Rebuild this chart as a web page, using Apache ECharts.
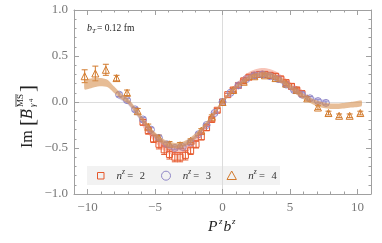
<!DOCTYPE html>
<html><head><meta charset="utf-8">
<script src="https://cdn.jsdelivr.net/npm/echarts@6/dist/echarts.min.js"></script>
<style>html,body{margin:0;padding:0;background:#fff}#c{width:382px;height:243px}</style>
</head><body><div id="c"></div>
<script>
// ---- data: n^z = 2 (squares)
const x2 = [-5.89,-5.50,-5.11,-4.71,-4.32,-3.93,-3.53,-3.14,-2.75,-2.36,-1.96,-1.57,-1.18,-0.79,-0.39,0,0.39,0.79,1.18,1.57,1.96,2.36,2.75,3.14,3.53,3.93,4.32,4.71,5.11,5.50,5.89];
const y2 = [-0.22,-0.31,-0.40,-0.46,-0.52,-0.57,-0.60,-0.60,-0.58,-0.53,-0.46,-0.38,-0.28,-0.19,-0.09,0,0.08,0.13,0.18,0.23,0.27,0.29,0.30,0.30,0.29,0.28,0.25,0.21,0.17,0.13,0.09];
const e2 = [0.03,0.04,0.04,0.05,0.05,0.05,0.05,0.05,0.05,0.04,0.04,0.03,0.03,0.02,0.02,0.01,0.015,0.02,0.02,0.02,0.025,0.025,0.03,0.03,0.03,0.03,0.03,0.03,0.03,0.03,0.03];
// ---- n^z = 3 (circles)
const x3 = [-7.66,-7.07,-6.48,-5.89,-5.30,-4.71,-4.12,-3.53,-2.95,-2.36,-1.77,-1.18,-0.59,0,0.59,1.18,1.77,2.36,2.95,3.53,4.12,4.71,5.30,5.89,6.48,7.07,7.66];
const y3 = [0.08,0.02,-0.08,-0.19,-0.30,-0.39,-0.46,-0.50,-0.49,-0.44,-0.35,-0.25,-0.12,0,0.10,0.18,0.25,0.29,0.30,0.28,0.25,0.19,0.13,0.08,0.04,0.01,-0.01];
const e3 = [0.02,0.02,0.02,0.02,0.02,0.02,0.02,0.02,0.02,0.02,0.015,0.015,0.01,0.01,0.01,0.015,0.015,0.02,0.02,0.02,0.02,0.02,0.02,0.02,0.02,0.02,0.02];
// ---- n^z = 4 (triangles)
const x4 = [-10.21,-9.42,-8.64,-7.85,-7.07,-6.28,-5.50,-4.71,-3.93,-3.14,-2.36,-1.57,-0.79,0,0.79,1.57,2.36,3.14,3.93,4.71,5.50,6.28,7.07,7.85,8.64,9.42,10.21];
const y4 = [0.28,0.31,0.35,0.26,0.10,-0.10,-0.27,-0.39,-0.46,-0.47,-0.42,-0.31,-0.16,0,0.13,0.22,0.28,0.29,0.26,0.20,0.13,0.04,-0.06,-0.12,-0.15,-0.15,-0.12];
const e4 = [0.07,0.08,0.06,0.03,0.03,0.03,0.03,0.03,0.03,0.03,0.02,0.02,0.02,0.01,0.02,0.02,0.02,0.02,0.02,0.02,0.02,0.02,0.02,0.02,0.02,0.02,0.02];
// ---- fit bands (centre, half-width)
const bx4 = [-10.2,-9.5,-9,-8.5,-8,-7.5,-7,-6.5,-6,-5.5,-5,-4.5,-4,-3.5,-3,-2.5,-2,-1.5,-1,-0.5,0,0.5,1,1.5,2,2.5,3,3.5,4,4.5,5,5.5,6,6.5,7,7.5,8,8.5,9,9.5,10.3];
const bc4 = [0.185,0.21,0.215,0.2,0.13,0.06,0.01,-0.08,-0.18,-0.28,-0.36,-0.42,-0.46,-0.475,-0.465,-0.43,-0.37,-0.29,-0.2,-0.1,0,0.09,0.16,0.22,0.265,0.29,0.3,0.29,0.26,0.22,0.165,0.11,0.06,0.02,-0.015,-0.035,-0.045,-0.045,-0.04,-0.03,-0.015];
const bw4 = [0.05,0.05,0.045,0.04,0.035,0.03,0.03,0.03,0.03,0.03,0.03,0.03,0.03,0.03,0.03,0.03,0.03,0.025,0.02,0.02,0.02,0.02,0.02,0.02,0.025,0.025,0.03,0.03,0.03,0.03,0.03,0.03,0.03,0.03,0.03,0.03,0.03,0.03,0.03,0.03,0.03];
const bx3 = [-7.7,-7,-6.5,-6,-5.5,-5,-4.5,-4,-3.5,-3,-2.5,-2,-1.5,-1,-0.5,0,0.5,1,1.5,2,2.5,3,3.5,4,4.5,5,5.5,6,6.5,7,7.7];
const bc3 = [0.07,0.0,-0.09,-0.19,-0.29,-0.37,-0.43,-0.475,-0.49,-0.48,-0.44,-0.38,-0.3,-0.21,-0.11,0,0.09,0.17,0.23,0.275,0.3,0.305,0.29,0.26,0.21,0.155,0.11,0.07,0.035,0.01,-0.015];
const bw3 = [0.03,0.03,0.03,0.03,0.03,0.03,0.03,0.03,0.03,0.03,0.03,0.025,0.02,0.02,0.015,0.01,0.015,0.02,0.02,0.025,0.03,0.03,0.03,0.03,0.03,0.03,0.03,0.03,0.03,0.03,0.03];
const bx2 = [-5.9,-5.5,-5,-4.5,-4,-3.5,-3,-2.5,-2,-1.5,-1,-0.5,0,0.5,1,1.5,2,2.5,3,3.5,4,4.5,5,5.5,5.9];
const bc2 = [-0.22,-0.3,-0.39,-0.46,-0.51,-0.53,-0.52,-0.48,-0.41,-0.32,-0.22,-0.11,0,0.09,0.17,0.24,0.29,0.32,0.33,0.32,0.29,0.24,0.18,0.13,0.09];
const bw2 = [0.05,0.05,0.05,0.05,0.05,0.05,0.05,0.05,0.045,0.04,0.03,0.02,0.01,0.02,0.03,0.035,0.04,0.04,0.04,0.04,0.04,0.04,0.04,0.04,0.04];
// ---- ticks
const xMajor = [-10,-5,0,5,10];

const C2 = '#e6582c', C3 = '#9088c8', C4 = '#d27a2c';
const SERIF = '"Liberation Serif","DejaVu Serif",serif';
const minus = v => String(v).replace('-', '\u2212');

function pts(xs, ys, es) { return xs.map((x, i) => [x, ys[i], es[i]]); }
function errSeries(xs, ys, es, color) {
  return {
    type: 'custom', z: 2, silent: true, data: pts(xs, ys, es),
    renderItem: function (p, api) {
      const x = api.value(0), y = api.value(1), e = api.value(2);
      const a = api.coord([x, y - e]), b = api.coord([x, y + e]);
      const cw = 3;
      const st = { stroke: color, lineWidth: 1 };
      return { type: 'group', children: [
        { type: 'line', shape: { x1: a[0], y1: a[1], x2: b[0], y2: b[1] }, style: st },
        { type: 'line', shape: { x1: a[0] - cw, y1: a[1], x2: a[0] + cw, y2: a[1] }, style: st },
        { type: 'line', shape: { x1: b[0] - cw, y1: b[1], x2: b[0] + cw, y2: b[1] }, style: st }
      ]};
    }
  };
}
function bandSeries(bx, bc, bw, fill, z) {
  const data = bx.map((x, i) => [x, bc[i] - bw[i], bc[i] + bw[i]]);
  return {
    type: 'custom', z: z, silent: true, data: data,
    renderItem: function (p, api) {
      if (p.dataIndex !== 0) return null;
      const up = data.map(d => api.coord([d[0], d[2]]));
      const lo = data.map(d => api.coord([d[0], d[1]])).reverse();
      return { type: 'polygon', shape: { points: up.concat(lo), smooth: 0.2 }, style: { fill: fill, stroke: null } };
    }
  };
}
function scat(xs, ys, symbol, size, color) {
  return {
    type: 'scatter', z: 3, silent: true, symbol: symbol, symbolSize: size,
    data: xs.map((x, i) => [x, ys[i]]),
    itemStyle: { color: 'rgba(255,255,255,0)', borderColor: color, borderWidth: 1, opacity: 1 }
  };
}

const axisCol = '#a0a0a0';
const tx = (x, y, text, size, italic, color, align) => ({
  type: 'text', x: x, y: y, silent: true,
  style: { text: text, fontSize: size, fontFamily: SERIF, fontStyle: italic ? 'italic' : 'normal', fill: color || '#333', align: align || 'left', verticalAlign: 'middle' }
});

const chart = echarts.init(document.getElementById('c'), null, { renderer: 'canvas' });
const baseX = { type: 'value', min: -11, max: 11, splitLine: { show: false } };
const baseY = { type: 'value', min: -1, max: 1, splitLine: { show: false } };
const hiddenLine = { show: false, onZero: false };
chart.setOption({
  animation: false,
  grid: { left: 74, right: 11, top: 10, bottom: 49 },
  xAxis: [
    Object.assign({}, baseX, { position: 'bottom',
      axisLine: { show: true, onZero: false, lineStyle: { color: axisCol } },
      axisTick: { show: true, inside: true, length: 5, customValues: xMajor, lineStyle: { color: axisCol } },
      axisLabel: { show: true, customValues: xMajor, formatter: minus, color: '#777', fontFamily: SERIF, fontSize: 13, margin: 7 } }),
    Object.assign({}, baseX, { position: 'bottom', interval: 1,
      axisLine: hiddenLine, axisTick: { show: true, inside: true, length: 2.5, lineStyle: { color: axisCol } }, axisLabel: { show: false } }),
    Object.assign({}, baseX, { position: 'top',
      axisLine: { show: true, onZero: false, lineStyle: { color: axisCol } },
      axisTick: { show: true, inside: true, length: 5, customValues: xMajor, lineStyle: { color: axisCol } },
      axisLabel: { show: false } }),
    Object.assign({}, baseX, { position: 'top', interval: 1,
      axisLine: hiddenLine, axisTick: { show: true, inside: true, length: 2.5, lineStyle: { color: axisCol } }, axisLabel: { show: false } }),
    Object.assign({}, baseX, { position: 'bottom', interval: 11,
      axisLine: hiddenLine, axisTick: { show: false }, axisLabel: { show: false },
      splitLine: { show: true, lineStyle: { color: '#dcdcdc', width: 1 } } })
  ],
  yAxis: [
    Object.assign({}, baseY, { position: 'left', interval: 0.5,
      axisLine: { show: true, onZero: false, lineStyle: { color: axisCol } },
      axisTick: { show: true, inside: true, length: 5, lineStyle: { color: axisCol } },
      minorTick: { show: true, splitNumber: 5, length: 2.5, lineStyle: { color: axisCol } },
      axisLabel: { formatter: v => minus(v.toFixed(1)), color: '#777', fontFamily: SERIF, fontSize: 13, margin: 6 } }),
    Object.assign({}, baseY, { position: 'right', interval: 0.5,
      axisLine: { show: true, onZero: false, lineStyle: { color: axisCol } },
      axisTick: { show: true, inside: true, length: 5, lineStyle: { color: axisCol } },
      minorTick: { show: true, splitNumber: 5, length: 2.5, lineStyle: { color: axisCol } },
      axisLabel: { show: false } }),
    Object.assign({}, baseY, { position: 'left', interval: 1,
      axisLine: hiddenLine, axisTick: { show: false }, axisLabel: { show: false },
      splitLine: { show: true, lineStyle: { color: '#dcdcdc', width: 1 } } })
  ],
  series: [
    errSeries(x2, y2, e2, C2), errSeries(x3, y3, e3, C3), errSeries(x4, y4, e4, C4),
    scat(x2, y2, 'rect', 6, C2), scat(x3, y3, 'circle', 7, C3), scat(x4, y4, 'triangle', 7, C4),
    bandSeries(bx2, bc2, bw2, 'rgba(238,110,80,0.40)', 4),
    bandSeries(bx3, bc3, bw3, 'rgba(150,140,210,0.40)', 5),
    bandSeries(bx4, bc4, bw4, 'rgba(215,145,80,0.60)', 6)
  ],
  graphic: [
    // annotation b_T = 0.12 fm
    tx(87, 28, 'b', 10, true, '#222'),
    tx(92, 31, 'T', 7, true, '#222'),
    tx(97, 28, '= 0.12 fm', 9.5, false, '#222'),
    // legend
    { type: 'rect', silent: true, shape: { x: 87, y: 166, width: 193, height: 19 }, style: { fill: '#f2f2f2' } },
    { type: 'rect', silent: true, shape: { x: 97.5, y: 172.5, width: 6.5, height: 6.5 }, style: { fill: 'none', stroke: C2, lineWidth: 1 } },
    tx(116.5, 176, 'n', 11, true, '#333'), tx(122, 172.5, 'z', 7.5, true, '#333'),
    tx(127.3, 176, '=', 10.5, false, '#333'), tx(139.8, 176, '2', 10.5, false, '#333'),
    { type: 'circle', silent: true, shape: { cx: 166, cy: 175.7, r: 4.5 }, style: { fill: 'none', stroke: C3, lineWidth: 1 } },
    tx(182.7, 176, 'n', 11, true, '#333'), tx(188.2, 172.5, 'z', 7.5, true, '#333'),
    tx(193.3, 176, '=', 10.5, false, '#333'), tx(205.8, 176, '3', 10.5, false, '#333'),
    { type: 'polygon', silent: true, shape: { points: [[231.7, 171], [227, 179.5], [236.4, 179.5]] }, style: { fill: 'none', stroke: C4, lineWidth: 1 } },
    tx(248.3, 176, 'n', 11, true, '#333'), tx(253.8, 172.5, 'z', 7.5, true, '#333'),
    tx(259, 176, '=', 10.5, false, '#333'), tx(271.5, 176, '4', 10.5, false, '#333'),
    // x-axis title P^z b^z
    tx(208, 227, 'P', 15.5, true, '#222'), tx(219, 222, 'z', 9, true, '#222'),
    tx(223.5, 227, 'b', 15.5, true, '#222'), tx(232, 222, 'z', 9, true, '#222'),
    // y-axis title Im[ B^MS_{gamma4} ]
    { type: 'group', x: 28, y: 110, rotation: Math.PI / 2, silent: true, children: [
      tx(-38, 0, 'Im', 16, false, '#222'),
      tx(-16, 0, '[', 21, false, '#222'),
      tx(-9, 0, 'B', 16, true, '#222'),
      { type: 'line', shape: { x1: -8, y1: -7, x2: 1, y2: -7 }, style: { stroke: '#222', lineWidth: 0.8 } },
      tx(3, -7, 'MS', 9, false, '#222'),
      { type: 'line', shape: { x1: 3, y1: -12, x2: 16, y2: -12 }, style: { stroke: '#222', lineWidth: 0.8 } },
      tx(3, 5, '\u03b3', 9, true, '#222'), tx(8, 3, '4', 6.5, false, '#222'),
      tx(18, 0, ']', 21, false, '#222')
    ]}
  ]
});
</script></body></html>
